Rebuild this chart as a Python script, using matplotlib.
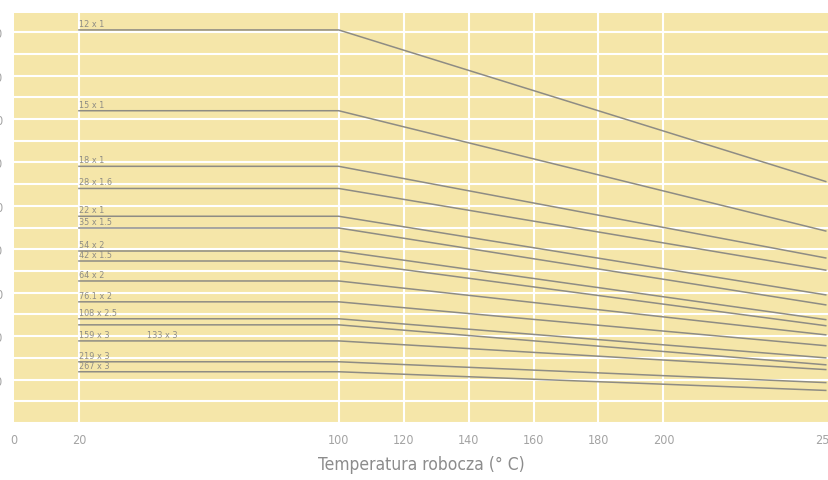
import numpy as np
import matplotlib.pyplot as plt
from matplotlib.ticker import MultipleLocator

# rury: etykieta, wartość do 100 °C, wartość przy 250 °C
rury = ['12 x 1', '15 x 1', '18 x 1', '28 x 1.6', '22 x 1', '35 x 1.5', '54 x 2',
        '42 x 1.5', '64 x 2', '76.1 x 2', '108 x 2.5', '133 x 3', '159 x 3',
        '219 x 3', '267 x 3']
p_100 = [90.5, 71.9, 59.1, 54.0, 47.6, 44.9, 39.6, 37.3, 32.7, 27.9, 24.0, 22.6, 18.9, 14.1, 11.8]
p_250 = [55.6, 44.2, 38.0, 35.2, 29.5, 27.2, 23.8, 22.4, 20.3, 17.8, 15.0, 13.4, 12.3, 9.3, 7.5]

temp = [20, 100, 250]  # punkty załamania
xticks = [0, 20, 100, 120, 140, 160, 180, 200, 250]
siatka_x = [20, 100, 120, 140, 160, 180, 200]
yticks = [10, 20, 30, 40, 50, 60, 70, 80, 90]

zolty = '#f5e6a9'
szary = '#8e8c84'
krój = dict(family='DejaVu Sans', fontstretch='condensed')

fig = plt.figure(figsize=(8.29, 4.81), dpi=100)
ax = fig.add_axes([14 / 829, 57 / 481, 1 - 14 / 829, 410 / 481])
ax.set_facecolor(zolty)

ax.set_xlim(0, 251)
ax.set_ylim(0, 94.4)

# siatka
ax.yaxis.set_minor_locator(MultipleLocator(5))
ax.grid(True, axis='y', which='both', color='white', linewidth=1.5)
for xv in siatka_x:
  ax.axvline(xv, color='white', linewidth=1.5, zorder=1)
ax.set_axisbelow(True)

for i, nazwa in enumerate(rury):
  ax.plot(temp, [p_100[i], p_100[i], p_250[i]], color=szary, linewidth=1.1, zorder=3)
  if nazwa == '133 x 3':
    # etykieta przesunięta w prawo, na wysokości 159 x 3
    ax.annotate(nazwa, (41, p_100[i + 1]), xytext=(0, 1.5), textcoords='offset points',
                fontsize=6.5, color=szary, va='bottom', ha='left', **krój)
  else:
    ax.annotate(nazwa, (20, p_100[i]), xytext=(0, 1.5), textcoords='offset points',
                fontsize=6.5, color=szary, va='bottom', ha='left', **krój)

ax.set_xticks(xticks)
ax.set_xticklabels([str(t) for t in xticks], fontsize=9, color='#a3a3a3', **krój)
ax.set_yticks(yticks)
ax.set_yticklabels([str(t) for t in yticks], fontsize=9, color='#a3a3a3', **krój)
ax.tick_params(axis='both', which='both', length=0)
ax.tick_params(axis='x', pad=7)
ax.tick_params(axis='y', pad=8)

for s in ax.spines.values():
  s.set_visible(False)

ax.set_xlabel('Temperatura robocza (° C)', fontsize=12.5, color='#8c8c8c', labelpad=7,
              fontweight='medium', **krój)

fig.savefig('out.png', dpi=100)
